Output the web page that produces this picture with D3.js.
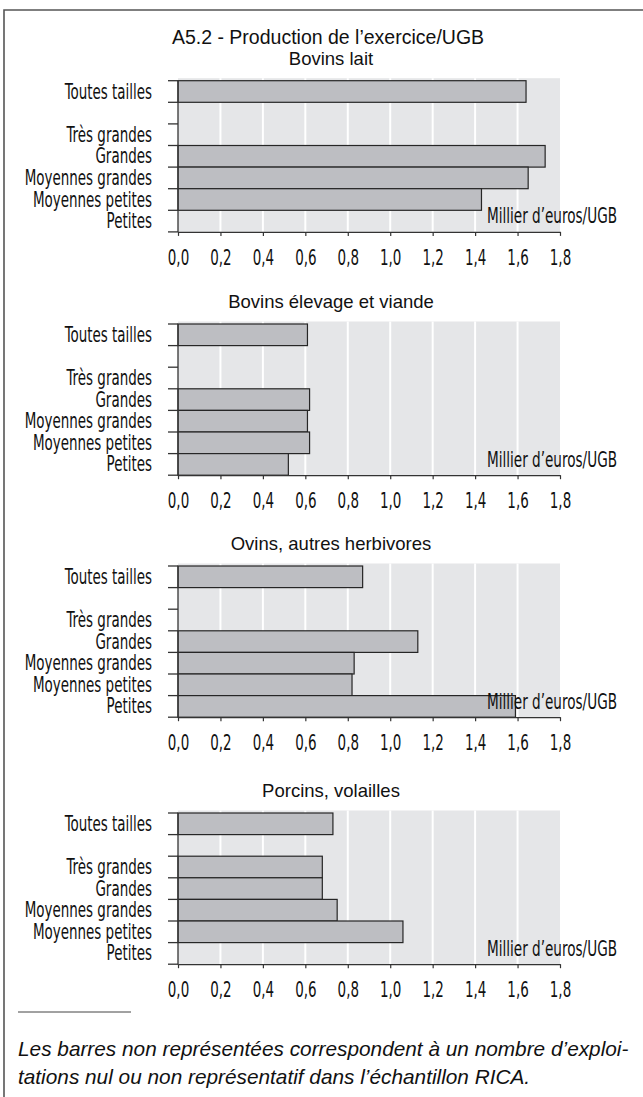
<!DOCTYPE html>
<html lang="fr">
<head>
<meta charset="UTF-8" />
<title>A5.2 - Production de l'exercice/UGB</title>
<script src="https://d3js.org/d3.v7.min.js"></script>
<style>
  body { margin: 0; background: #fff; }
  .cond { font-family: "Liberation Sans Narrow", "DejaVu Sans Condensed", sans-serif; fill: #111; }
  .reg { font-family: "Liberation Sans", Arial, sans-serif; fill: #111; }
</style>
</head>
<body>
<div id="chart"></div>
<script>
var w = 643;
var h = 1097;

// data (null = bar not shown)
var mainTitle = "A5.2 - Production de l\u2019exercice/UGB";
var panelTitles = ["Bovins lait", "Bovins élevage et viande", "Ovins, autres herbivores", "Porcins, volailles"];
var categories = ["Toutes tailles", "", "Très grandes", "Grandes", "Moyennes grandes", "Moyennes petites", "Petites"];
var bovinsLait = [1.64, null, null, 1.73, 1.65, 1.43, null];
var bovinsViande = [0.61, null, null, 0.62, 0.61, 0.62, 0.52];
var ovins = [0.87, null, null, 1.13, 0.83, 0.82, 1.59];
var porcins = [0.73, null, 0.68, 0.68, 0.75, 1.06, null];
var xTicks = [0, 0.2, 0.4, 0.6, 0.8, 1.0, 1.2, 1.4, 1.6, 1.8];
var unitLabel = "Millier d\u2019euros/UGB";
var footnote = ["Les barres non représentées correspondent à un nombre d\u2019exploi-",
                "tations nul ou non représentatif dans l\u2019échantillon RICA."];

var series = [bovinsLait, bovinsViande, ovins, porcins];
var panelTops = [80.7, 324, 566, 813];
var rowH = 21.6;
var sx = 0.68; // horizontal squeeze for the condensed face

var svg = d3.select("#chart").append("svg")
    .attr("width", w)
    .attr("height", h);

// frame (top and left sides only are visible)
svg.append("path")
    .attr("d", "M4," + h + "V10H" + w)
    .attr("fill", "none")
    .attr("stroke", "#555")
    .attr("stroke-width", 1.6);

svg.append("text")
    .attr("class", "reg")
    .attr("x", 328).attr("y", 44)
    .attr("text-anchor", "middle")
    .style("font-size", "19.5px")
    .text(mainTitle);

var x = d3.scaleLinear().domain([0, 1.8]).range([178, 560]);
var fr = d3.formatLocale({ decimal: ",", thousands: " ", grouping: [3], currency: ["", "€"] });
var fmt = fr.format(".1f");

series.forEach(function (values, p) {
    var top = panelTops[p];
    var y = d3.scaleBand()
        .domain(categories)
        .range([top, top + rowH * categories.length])
        .padding(0);
    var bottom = y.range()[1];
    var g = svg.append("g");

    g.append("text")
        .attr("class", "reg")
        .attr("x", 331).attr("y", top - 16)
        .attr("text-anchor", "middle")
        .style("font-size", "18.5px")
        .text(panelTitles[p]);

    // grey plot background
    g.append("rect")
        .attr("x", x(0)).attr("y", top - 2.5)
        .attr("width", x(1.8) - x(0))
        .attr("height", bottom - top + 2.5)
        .attr("fill", "#e5e6e8");

    // white grid lines
    g.selectAll(".grid")
        .data(xTicks.slice(1, -1))
        .enter().append("line")
        .attr("x1", function (d) { return x(d); })
        .attr("x2", function (d) { return x(d); })
        .attr("y1", top - 2.5).attr("y2", bottom)
        .attr("stroke", "#fff")
        .attr("stroke-width", 2);

    // bars
    var rows = categories.map(function (c, i) { return { cat: c, value: values[i] }; });
    g.selectAll(".bar")
        .data(rows.filter(function (d) { return d.value !== null; }))
        .enter().append("rect")
        .attr("x", x(0))
        .attr("y", function (d) { return y(d.cat); })
        .attr("width", function (d) { return x(d.value) - x(0); })
        .attr("height", y.bandwidth())
        .attr("fill", "#bdbec2")
        .attr("stroke", "#262626")
        .attr("stroke-width", 1.2);

    // left axis: line plus ticks on row boundaries
    g.append("line")
        .attr("x1", x(0)).attr("x2", x(0))
        .attr("y1", top).attr("y2", bottom)
        .attr("stroke", "#333").attr("stroke-width", 1.3);
    var bounds = categories.map(function (c) { return y(c); }).concat([bottom]);
    g.selectAll(".ytick")
        .data(bounds)
        .enter().append("line")
        .attr("x1", x(0) - 10).attr("x2", x(0))
        .attr("y1", function (d) { return d; })
        .attr("y2", function (d) { return d; })
        .attr("stroke", "#333").attr("stroke-width", 1.3);

    g.selectAll(".ylab")
        .data(categories)
        .enter().append("text")
        .attr("class", "cond")
        .attr("text-anchor", "end")
        .attr("transform", function (d) {
            return "translate(152," + (y(d) + y.bandwidth() / 2 + 7) + ") scale(" + sx + ",1)";
        })
        .style("font-size", "22px")
        .text(function (d) { return d; });

    // bottom axis
    var ax = g.append("g")
        .attr("transform", "translate(0," + bottom + ")")
        .call(d3.axisBottom(x).tickValues(xTicks).tickSize(4).tickSizeOuter(0).tickFormat(fmt));
    ax.select(".domain").attr("stroke", "#333").attr("stroke-width", 1.3);
    ax.selectAll(".tick line").attr("stroke", "#333").attr("stroke-width", 1.2);
    ax.selectAll(".tick text")
        .attr("class", "cond")
        .attr("y", 0).attr("dy", null)
        .attr("transform", "translate(0,33) scale(" + sx + ",1)")
        .style("font-size", "22px")
        .attr("font-family", null);
    ax.attr("font-family", null).attr("font-size", null);

    g.append("text")
        .attr("class", "cond")
        .attr("text-anchor", "end")
        .attr("transform", "translate(617," + (bottom - 8.5) + ") scale(0.72,1)")
        .style("font-size", "21px")
        .text(unitLabel);
});

// footnote
svg.append("line")
    .attr("x1", 18).attr("x2", 131)
    .attr("y1", 1012).attr("y2", 1012)
    .attr("stroke", "#444").attr("stroke-width", 1);

svg.selectAll(".note")
    .data(footnote)
    .enter().append("text")
    .attr("class", "reg")
    .attr("x", 18)
    .attr("y", function (d, i) { return 1056 + i * 28; })
    .style("font-size", "20.8px")
    .style("font-style", "italic")
    .text(function (d) { return d; });
</script>
</body>
</html>
